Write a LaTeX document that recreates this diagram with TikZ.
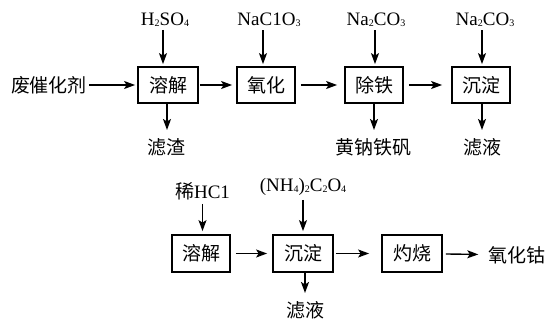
\documentclass[tikz,border=0pt]{standalone}
\usepackage{fontspec}
\setmainfont{Liberation Serif}
\newfontfamily\cjk{Noto Sans CJK SC}
\usetikzlibrary{arrows.meta}
\newcommand\chemsub[1]{\raisebox{-1pt}{\fontsize{10}{10}\selectfont #1}}
\tikzset{
  box/.style={draw, line width=1.8pt, minimum width=58pt, minimum height=36pt, inner sep=0pt, font=\cjk\fontsize{19}{22}\selectfont},
  lbl/.style={inner sep=0pt, font=\cjk\fontsize{19}{22}\selectfont},
  chem/.style={inner sep=0pt, font=\fontsize{19}{22}\selectfont},
  arr/.style={line width=1.4pt, -{Stealth[length=11pt, width=8pt, inset=2.5pt]}}
}
\begin{document}
\begin{tikzpicture}[x=1pt, y=-1pt]
\useasboundingbox (0,0) rectangle (550,326);
% row 1
\node[lbl] (feed) at (49,85) {废催化剂};
\node[box, minimum width=60pt] (b1) at (168,85) {溶解};
\node[box] (b2) at (266,85) {氧化};
\node[box] (b3) at (374,85) {除铁};
\node[box] (b4) at (481,85) {沉淀};
\node[chem] (r1) at (165,20) {H\chemsub{2}SO\chemsub{4}};
\node[chem] (r2) at (269,20) {NaC1O\chemsub{3}};
\node[chem] (r3) at (376,20) {Na\chemsub{2}CO\chemsub{3}};
\node[chem] (r4) at (485,20) {Na\chemsub{2}CO\chemsub{3}};
\node[lbl] (o1) at (166,147) {滤渣};
\node[lbl] (o3) at (373,147) {黄钠铁矾};
\node[lbl] (o4) at (482,147) {滤液};
\draw[arr, shorten <=2pt, shorten >=2pt] (feed) -- (b1);
\draw[arr, shorten <=1pt, shorten >=4pt] (b1) -- (b2);
\draw[arr, shorten <=5pt, shorten >=7pt] (b2) -- (b3);
\draw[arr, shorten <=5pt, shorten >=9pt] (b3) -- (b4);
\draw[arr, shorten <=3pt, shorten >=2pt] ([xshift=-5pt]b1.north |- r1.south) -- ([xshift=-5pt]b1.north);
\draw[arr, shorten <=3pt, shorten >=2pt] ([xshift=-3pt]b2.north |- r2.south) -- ([xshift=-3pt]b2.north);
\draw[arr, shorten <=3pt, shorten >=2pt] ([xshift=1pt]b3.north |- r3.south) -- ([xshift=1pt]b3.north);
\draw[arr, shorten <=3pt, shorten >=2pt] ([xshift=1pt]b4.north |- r4.south) -- ([xshift=1pt]b4.north);
\draw[arr, shorten >=8pt] ([xshift=-1pt]b1.south) -- ([xshift=-1pt]b1.south |- o1.north);
\draw[arr, shorten >=8pt] (b3.south) -- (b3.south |- o3.north);
\draw[arr, shorten >=8pt] ([xshift=1pt]b4.south) -- ([xshift=1pt]b4.south |- o4.north);
% row 2
\node[box, minimum height=37pt] (c1) at (201,253.5) {溶解};
\node[box, minimum height=37pt, minimum width=60pt] (c2) at (303,253.5) {沉淀};
\node[box, minimum height=37pt, minimum width=60pt] (c3) at (412,253.5) {灼烧};
\node[lbl] (prod) at (517,255) {氧化钴};
\node[chem] (s1) at (202.5,191) {{\cjk 稀}HC1};
\node[chem] (s2) at (303,187) {(NH\chemsub{4})\chemsub{2}C\chemsub{2}O\chemsub{4}};
\node[lbl] (p2) at (305,310) {滤液};
\draw[arr, shorten <=5pt, shorten >=5pt] (c1) -- (c2);
\draw[arr, shorten <=2pt, shorten >=12pt] (c2) -- (c3);
\draw[arr, shorten <=3pt, shorten >=10pt] (c3) -- (prod);
\draw[arr, shorten <=4pt, shorten >=3pt] ([xshift=1.5pt]c1.north |- s1.south) -- ([xshift=1.5pt]c1.north);
\draw[arr, shorten <=4pt, shorten >=3pt] (c2.north |- s2.south) -- (c2.north);
\draw[arr, shorten >=8pt] ([xshift=2pt]c2.south) -- ([xshift=2pt]c2.south |- p2.north);
\end{tikzpicture}
\end{document}
